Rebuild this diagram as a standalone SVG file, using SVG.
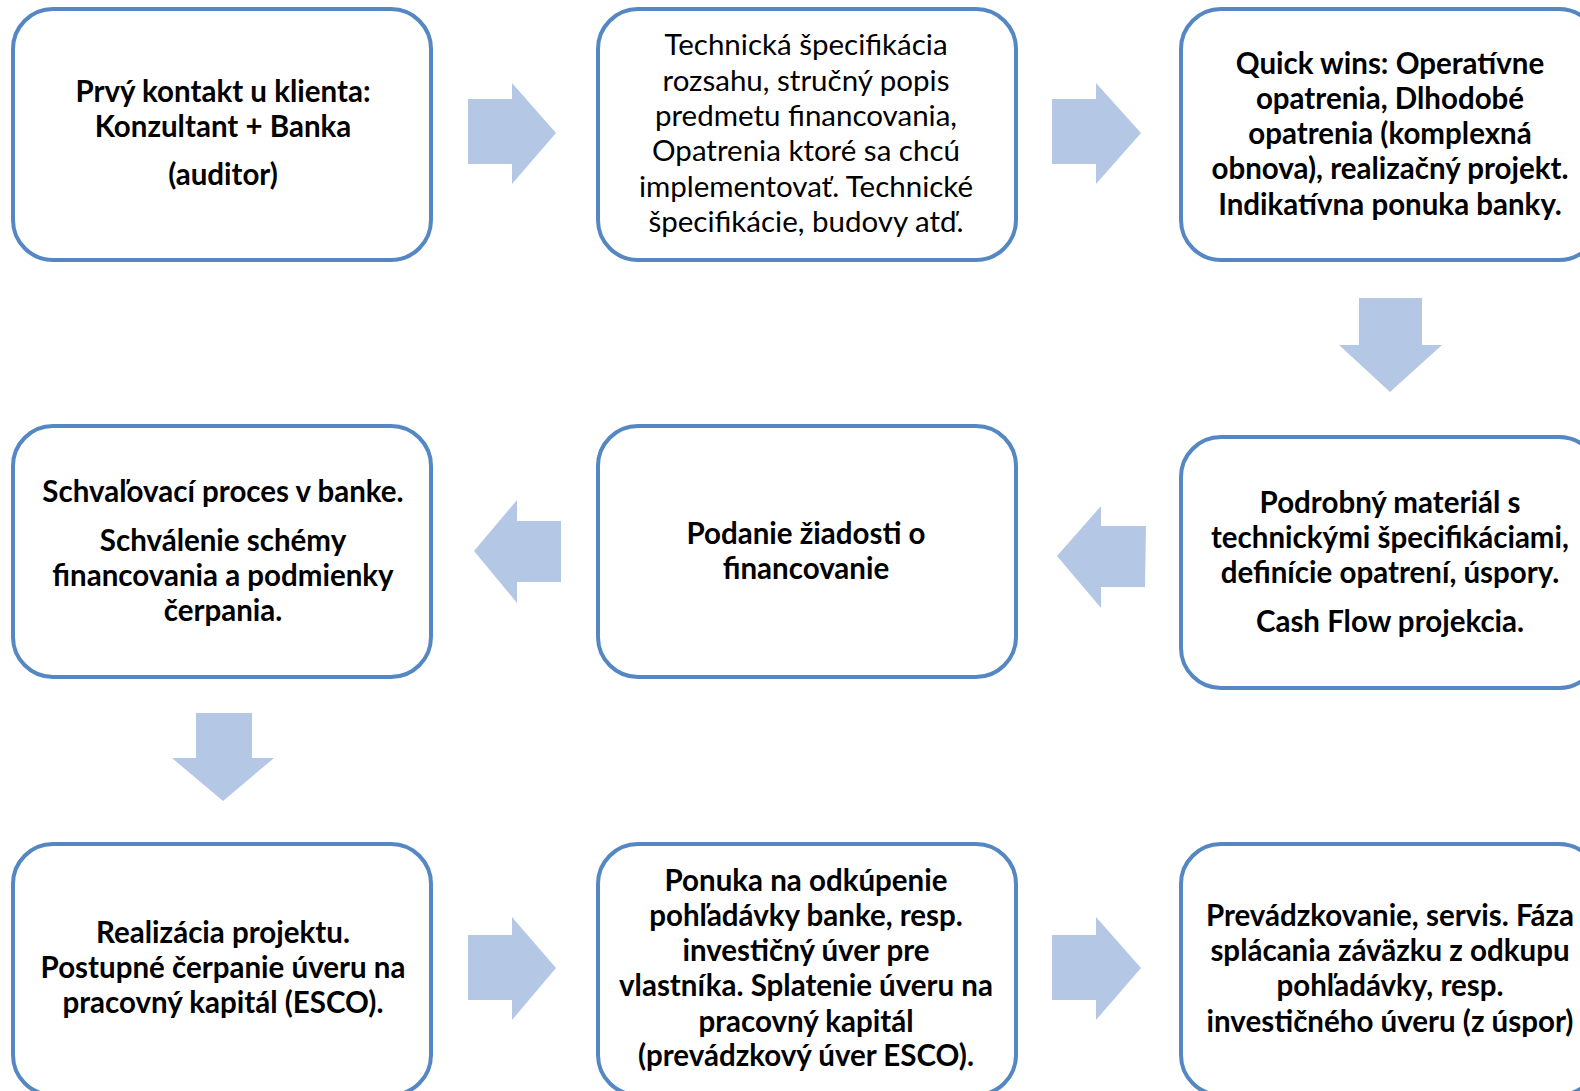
<svg xmlns="http://www.w3.org/2000/svg" width="1580" height="1091" viewBox="0 0 1580 1091">
<style>
.box{fill:#fff;stroke:#5587C3;stroke-width:4}
.arr{fill:#B4C8E6}
text{font-family:Lato,"Liberation Sans",sans-serif;font-size:29.5px;fill:#000;text-anchor:middle;dominant-baseline:central}
.b{font-weight:bold}
</style>
<rect width="1580" height="1091" fill="#fff"/>
<g id="connectors">
<polygon class="arr" points="468,99 512,99 512,83 556,133 512,184 512,164 468,164"/>
<polygon class="arr" points="1052,99 1096,99 1096,83 1141,133 1096,184 1096,164 1052,164"/>
<polygon class="arr" points="1359,298 1422,298 1422,345 1442,345 1390,392 1339,345 1359,345"/>
<polygon class="arr" points="1146,526 1145,587 1101,587 1101,608 1057,556 1101,506 1101,526"/>
<polygon class="arr" points="561,521 561,582 517,582 517,603 474,551 517,500 517,521"/>
<polygon class="arr" points="196,713 252,713 252,758 274,758 223,801 172,758 196,758"/>
<polygon class="arr" points="468,935 512,935 512,917 556,968 512,1020 512,1000 468,1000"/>
<polygon class="arr" points="1052,935 1096,935 1096,917 1141,968 1096,1020 1096,1000 1052,1000"/>
</g>
<g id="n1"><rect class="box" x="13" y="9" width="418" height="251" rx="40"/>
<text class="b" x="223" y="90">Prvý kontakt u klienta:</text>
<text class="b" x="223" y="125">Konzultant + Banka</text>
<text class="b" x="223" y="173">(auditor)</text></g>
<g id="n2"><rect class="box" x="598" y="9" width="418" height="251" rx="40"/>
<text x="806" y="43.5">Technická špecifikácia</text>
<text x="806" y="79">rozsahu, stručný popis</text>
<text x="806" y="114">predmetu financovania,</text>
<text x="806" y="149.5">Opatrenia ktoré sa chcú</text>
<text x="806" y="185">implementovať. Technické</text>
<text x="806" y="220">špecifikácie, budovy atď.</text></g>
<g id="n3"><rect class="box" x="1181" y="9" width="418" height="251" rx="40"/>
<text class="b" x="1390" y="62">Quick wins: Operatívne</text>
<text class="b" x="1390" y="97">opatrenia, Dlhodobé</text>
<text class="b" x="1390" y="132.5">opatrenia (komplexná</text>
<text class="b" x="1390" y="167.5">obnova), realizačný projekt.</text>
<text class="b" x="1390" y="203">Indikatívna ponuka banky.</text></g>
<g id="n4"><rect class="box" x="13" y="426" width="418" height="251" rx="40"/>
<text class="b" x="223" y="490">Schvaľovací proces v banke.</text>
<text class="b" x="223" y="539.5">Schválenie schémy</text>
<text class="b" x="223" y="574.5">financovania a podmienky</text>
<text class="b" x="223" y="609">čerpania.</text></g>
<g id="n5"><rect class="box" x="598" y="426" width="418" height="251" rx="40"/>
<text class="b" x="806" y="532.5">Podanie žiadosti o</text>
<text class="b" x="806" y="567.5">financovanie</text></g>
<g id="n6"><rect class="box" x="1181" y="437" width="418" height="251" rx="40"/>
<text class="b" x="1390" y="501">Podrobný materiál s</text>
<text class="b" x="1390" y="536.5">technickými špecifikáciami,</text>
<text class="b" x="1390" y="571.5">definície opatrení, úspory.</text>
<text class="b" x="1390" y="620">Cash Flow projekcia.</text></g>
<g id="n7"><rect class="box" x="13" y="844" width="418" height="251" rx="40"/>
<text class="b" x="223" y="931">Realizácia projektu.</text>
<text class="b" x="223" y="966.5">Postupné čerpanie úveru na</text>
<text class="b" x="223" y="1001.5">pracovný kapitál (ESCO).</text></g>
<g id="n8"><rect class="box" x="598" y="844" width="418" height="251" rx="40"/>
<text class="b" x="806" y="879">Ponuka na odkúpenie</text>
<text class="b" x="806" y="914">pohľadávky banke, resp.</text>
<text class="b" x="806" y="949.5">investičný úver pre</text>
<text class="b" x="806" y="984.5">vlastníka. Splatenie úveru na</text>
<text class="b" x="806" y="1020">pracovný kapitál</text>
<text class="b" x="806" y="1054">(prevádzkový úver ESCO).</text></g>
<g id="n9"><rect class="box" x="1181" y="844" width="418" height="251" rx="40"/>
<text class="b" x="1390" y="914">Prevádzkovanie, servis. Fáza</text>
<text class="b" x="1390" y="949.5">splácania záväzku z odkupu</text>
<text class="b" x="1390" y="984.5">pohľadávky, resp.</text>
<text class="b" x="1390" y="1020">investičného úveru (z úspor)</text></g>
</svg>
